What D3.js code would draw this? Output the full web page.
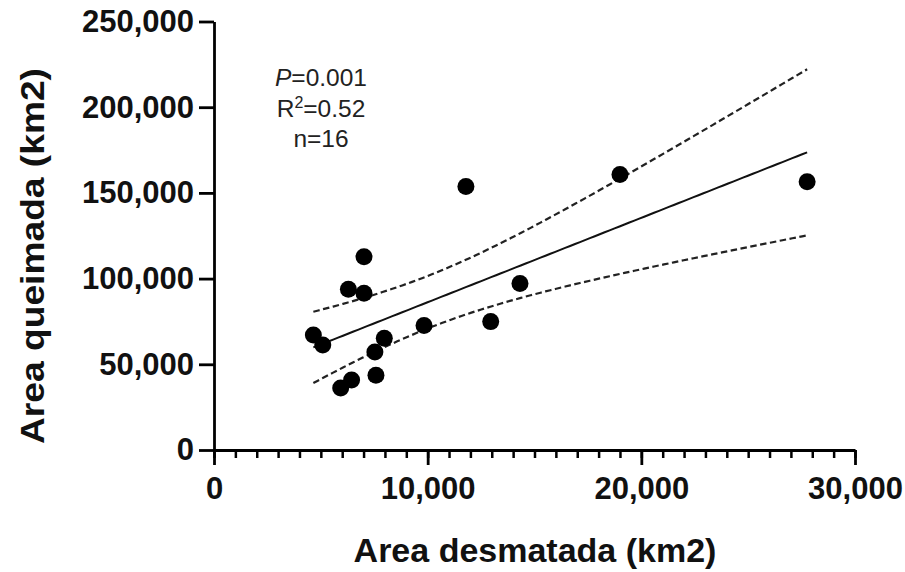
<!DOCTYPE html>
<html><head><meta charset="utf-8">
<script src="https://cdn.jsdelivr.net/npm/d3@7"></script>
<style>
body{margin:0;background:#fff;}
svg{display:block;font-family:"Liberation Sans",Arial,Helvetica,sans-serif;}
</style></head>
<body>
<svg id="chart" width="905" height="572"></svg>
<script>
// Data (km2)
const desmatada = [4650, 5090, 5930, 6440, 6290, 7020, 7020, 7580, 7530, 7970, 9830, 11790, 12950, 14320, 19000, 27760];
const queimada  = [67100, 61300, 36200, 40800, 93800, 91400, 112800, 43600, 57200, 65200, 72600, 153700, 74900, 97200, 160800, 156500];
const xTicks = [0, 10000, 20000, 30000];
const xMinorTicks = d3.range(0, 30001, 1000);
const yTicks = [0, 50000, 100000, 150000, 200000, 250000];
const statLines = [["P", "=0.001"], ["R", "2", "=0.52"], ["n=16"]];
const tCrit = 2.145; // t(0.975, df=14)

const svg = d3.select("#chart");
const x = d3.scaleLinear().domain([0, 30000]).range([214, 855]);
const y = d3.scaleLinear().domain([0, 250000]).range([450, 21.5]);
const fmt = d3.format(",");

// Linear regression and 95% confidence band
const n = desmatada.length;
const mx = d3.mean(desmatada), my = d3.mean(queimada);
let sxx = 0, sxy = 0;
for (let i = 0; i < n; i++) { sxx += (desmatada[i]-mx)**2; sxy += (desmatada[i]-mx)*(queimada[i]-my); }
const slope = sxy / sxx, intercept = my - slope * mx;
let sse = 0;
for (let i = 0; i < n; i++) sse += (queimada[i] - (intercept + slope*desmatada[i]))**2;
const s = Math.sqrt(sse / (n - 2));
const xs = d3.range(0, 101).map(k => d3.min(desmatada) + (d3.max(desmatada) - d3.min(desmatada)) * k / 100);
const fitPts = xs.map(v => [v, intercept + slope * v]);
const half = v => tCrit * s * Math.sqrt(1/n + (v-mx)**2 / sxx);
const upPts = xs.map(v => [v, intercept + slope * v + half(v)]);
const loPts = xs.map(v => [v, intercept + slope * v - half(v)]);
const line = d3.line().x(d => x(d[0])).y(d => y(d[1]));

svg.append("path").attr("d", line(fitPts)).attr("fill","none").attr("stroke","#111").attr("stroke-width",2);
[upPts, loPts].forEach(p => svg.append("path").attr("d", line(p)).attr("fill","none")
  .attr("stroke","#222").attr("stroke-width",2.2).attr("stroke-dasharray","6.5,3.5"));

// Points
svg.append("g").selectAll("circle").data(desmatada).join("circle")
  .attr("cx", (d,i) => x(d)).attr("cy", (d,i) => y(queimada[i])).attr("r", 8.5).attr("fill","#000");

// Axes
const xMinor = svg.append("g").attr("transform","translate(0,450)")
  .call(d3.axisBottom(x).tickValues(xMinorTicks).tickSize(8).tickFormat(""));
xMinor.select(".domain").remove();
xMinor.selectAll("line").attr("stroke","#000").attr("stroke-width",2.5);

const xAxis = svg.append("g").attr("transform","translate(0,450)")
  .call(d3.axisBottom(x).tickValues(xTicks).tickSize(15).tickSizeOuter(0).tickPadding(12).tickFormat(fmt));
const yAxis = svg.append("g").attr("transform","translate(214,0)")
  .call(d3.axisLeft(y).tickValues(yTicks).tickSize(15).tickSizeOuter(0).tickPadding(5).tickFormat(fmt));
[xAxis, yAxis].forEach(g => {
  g.select(".domain").attr("stroke","#000").attr("stroke-width",2.8);
  g.selectAll(".tick line").attr("stroke","#000").attr("stroke-width",2.8);
  g.selectAll("text").attr("fill","#111").attr("font-size",31).attr("font-weight","bold")
    .attr("font-family","'Liberation Sans',Arial,sans-serif");
});

// Axis titles
svg.append("text").attr("x", 535).attr("y", 562).attr("text-anchor","middle")
  .attr("font-size",34).attr("font-weight","bold").attr("fill","#111").text("Area desmatada (km2)");
svg.append("text").attr("transform","translate(44,256) rotate(-90)").attr("text-anchor","middle")
  .attr("font-size",34).attr("font-weight","bold").attr("fill","#111")
  .attr("textLength",376).attr("lengthAdjust","spacingAndGlyphs").text("Area queimada (km2)");

// Stats annotation
const st = svg.append("g").attr("fill","#222").attr("font-size",24.5);
const t1 = st.append("text").attr("x",321).attr("y",86).attr("text-anchor","middle");
t1.append("tspan").attr("font-style","italic").text(statLines[0][0]);
t1.append("tspan").text(statLines[0][1]);
const t2 = st.append("text").attr("x",321).attr("y",117).attr("text-anchor","middle");
t2.append("tspan").text(statLines[1][0]);
t2.append("tspan").attr("font-size",16).attr("dy",-9).text(statLines[1][1]);
t2.append("tspan").attr("dy",9).text(statLines[1][2]);
st.append("text").attr("x",321).attr("y",147).attr("text-anchor","middle").text(statLines[2][0]);
</script>
</body></html>
